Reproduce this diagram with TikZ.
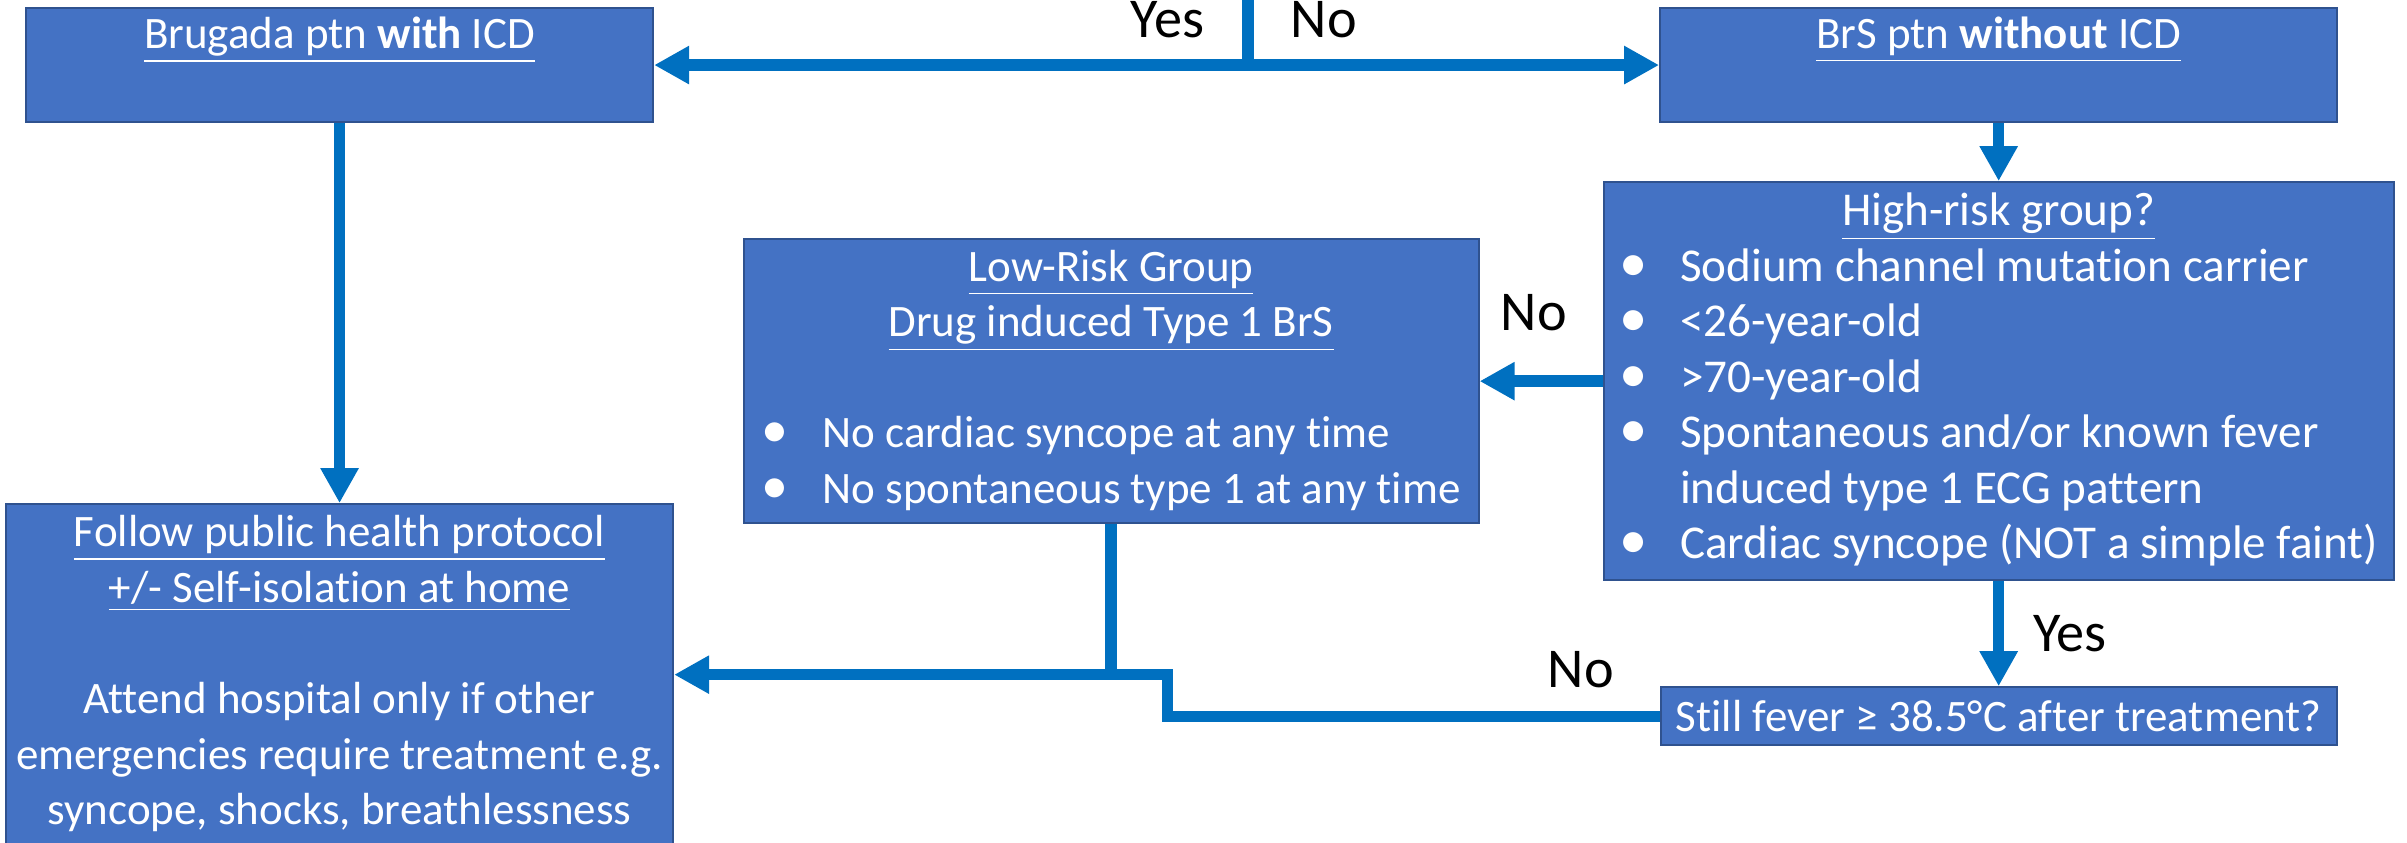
\documentclass[tikz,border=0pt]{standalone}
\usepackage{fontspec}
\setmainfont{Carlito}[Ligatures=NoCommon]
\usetikzlibrary{arrows.meta}
\usetikzlibrary{positioning}
\definecolor{boxfill}{HTML}{4472C4}
\definecolor{boxline}{HTML}{2F528F}
\definecolor{arrowblue}{HTML}{0070C0}
\newcommand{\bul}{\makebox[6.1mm][l]{\scalebox{1.2}{\textbullet}}}

\begin{document}
\begin{tikzpicture}
    [bx/.style={rectangle, draw=boxline, fill=boxfill, line width=0.6pt, inner sep=0pt, text=white, font=\fontsize{12.8}{15.8}\selectfont},
     lbl/.style={inner sep=0pt, font=\fontsize{16}{19}\selectfont},
     ar/.style={draw=arrowblue, line width=1.15mm, -{Triangle[length=3.5mm, width=3.6mm]}},
     ln/.style={draw=arrowblue, line width=1.15mm}]

    \useasboundingbox (0,0) rectangle (240.7mm,-84.3mm);

    \node [bx, minimum width=62.7mm, minimum height=11.4mm, anchor=north west] (icd) at (2.5mm,-0.7mm)
        {\begin{tabular}{c} \underline{Brugada ptn \textbf{with} ICD}\\ \\ \end{tabular}};
    \node [bx, minimum width=67.7mm, minimum height=11.4mm, right=100.5mm of icd] (noicd)
        {\begin{tabular}{c} \underline{BrS ptn \textbf{without} ICD}\\ \\ \end{tabular}};
    \node [bx, minimum width=79mm, minimum height=39.8mm, below=5.8mm of noicd,
           font=\fontsize{13.4}{15.8}\selectfont] (high) {
        \begin{tabular}{@{}l@{}}
        \multicolumn{1}{@{}c@{}}{\underline{High-risk group?}}\\
        \bul Sodium channel mutation carrier\\
        \bul <26-year-old\\
        \bul >70-year-old\\
        \bul Spontaneous and/or known fever\\
        \hspace*{6.1mm}induced type 1 ECG pattern\\
        \bul Cardiac syncope (NOT a simple faint)
        \end{tabular}};
    \node [bx, minimum width=73.5mm, minimum height=28.4mm, left=12.3mm of high] (low) {
        \begin{tabular}{@{}l@{}}
        \multicolumn{1}{@{}c@{}}{\underline{Low-Risk Group}}\\
        \multicolumn{1}{@{}c@{}}{\underline{Drug induced Type 1 BrS}}\\
        \\
        \bul No cardiac syncope at any time\\
        \bul No spontaneous type 1 at any time
        \end{tabular}};
    \node [bx, minimum width=66.7mm, minimum height=34.1mm, below=38mm of icd] (home) {
        \begin{tabular}{@{}c@{}}
        \underline{Follow public health protocol}\\
        \underline{+/- Self-isolation at home}\\
        \\
        Attend hospital only if other\\
        emergencies require treatment e.g.\\
        syncope, shocks, breathlessness
        \end{tabular}};
    \node [bx, minimum width=67.6mm, minimum height=5.8mm, below=10.5mm of high] (fever)
        {Still fever ≥ 38.5°C after treatment?};

    % connectors
    \coordinate (split) at (124.8mm,0);
    \draw [ar] (split) |- node [lbl, above left=2.1mm and 3.8mm] {Yes} (icd.east);
    \draw [ar] (split) |- node [lbl, above right=2.1mm and 3.7mm] {No} (noicd.west);
    \draw [ar] (icd.south) -- (home.north);
    \draw [ar] (noicd.south) -- (high.north);
    \draw [ar] (high.west) -- node [lbl, pos=0.56, above=4.5mm] {No} (low.east);
    \draw [ar] (high.south) -- node [lbl, right=2.9mm] {Yes} (fever.north);
    \draw [ln] (low.south) -- (low.south |- home.east);
    \draw [ar] (fever.west) -- node [lbl, pos=0.16, above=2.3mm] {No} ++(-49.2mm,0) |- (home.east);
\end{tikzpicture}
\end{document}
